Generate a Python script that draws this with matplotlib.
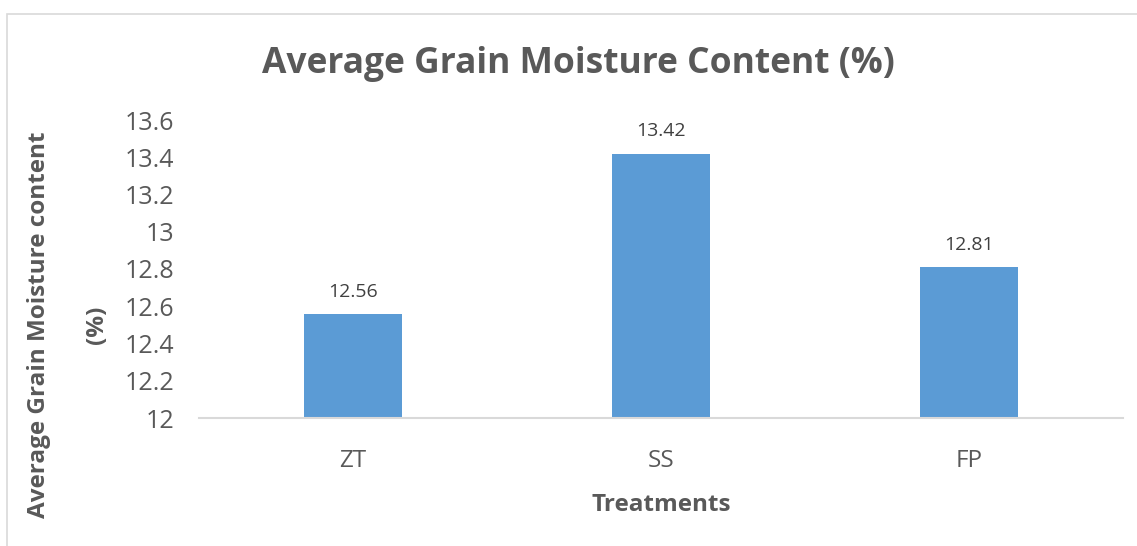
import matplotlib
matplotlib.use("Agg")
import matplotlib.pyplot as plt
import matplotlib.patches as mpatches
import numpy as np

# -- Donnees --
treatments = ["ZT", "SS", "FP"]
moisture = [12.56, 13.42, 12.81]
y_ticks = [12, 12.2, 12.4, 12.6, 12.8, 13, 13.2, 13.4, 13.6]
y_tick_labels = ["12", "12.2", "12.4", "12.6", "12.8", "13", "13.2", "13.4", "13.6"]

TEXT = "#595959"
BAR = "#5B9BD5"
plt.rcParams["font.family"] = ["Open Sans", "DejaVu Sans"]

W, H = 1137, 546
fig = plt.figure(figsize=(W / 100, H / 100), dpi=100)
ax = fig.add_axes([199 / W, 1 - 418 / H, (1123 - 199) / W, (418 - 120) / H])

# cadre du graphique
fig.patches.append(mpatches.Rectangle((7 / W, -0.1), 1.2, 1.1 - 14 / H,
                                      transform=fig.transFigure, fill=False,
                                      edgecolor="#D9D9D9", linewidth=1.2))

x = np.arange(len(treatments))
ax.bar(x, moisture, width=0.315, color=BAR, zorder=2)
for xi, v in zip(x, moisture):
    ax.text(xi, v + 0.07, f"{v:.2f}", ha="center", va="bottom",
            fontsize=14, color="#404040")

ax.set_xlim(-0.5, 2.5)
ax.set_ylim(12, 13.6)
ax.set_yticks(y_ticks)
ax.set_yticklabels(y_tick_labels, fontsize=18, color=TEXT)
ax.set_xticks(x)
ax.set_xticklabels(treatments, fontsize=17.5, color=TEXT)
ax.tick_params(axis="y", length=0, pad=18)
ax.tick_params(axis="x", length=0, pad=22)

for s in ["top", "right", "left"]:
    ax.spines[s].set_visible(False)
ax.spines["bottom"].set_color("#D9D9D9")
ax.spines["bottom"].set_linewidth(1.5)

ax.set_xlabel("Treatments", fontsize=17.5, fontweight="bold", color=TEXT, labelpad=15)
ax.set_ylabel("Average Grain Moisture content\n(%)", fontsize=17.5,
              fontweight="bold", color=TEXT, linespacing=2.85, va="center")
# apres set_ylabel, sinon y=0.5 est remis
ax.yaxis.set_label_coords(-131 / (1123 - 199), (418 - 325) / (418 - 120))

fig.text(578 / W, 1 - 64 / H, "Average Grain Moisture Content (%)",
         ha="center", va="center", fontsize=25.5, fontweight="bold", color=TEXT)

fig.savefig("out.png", dpi=100)
